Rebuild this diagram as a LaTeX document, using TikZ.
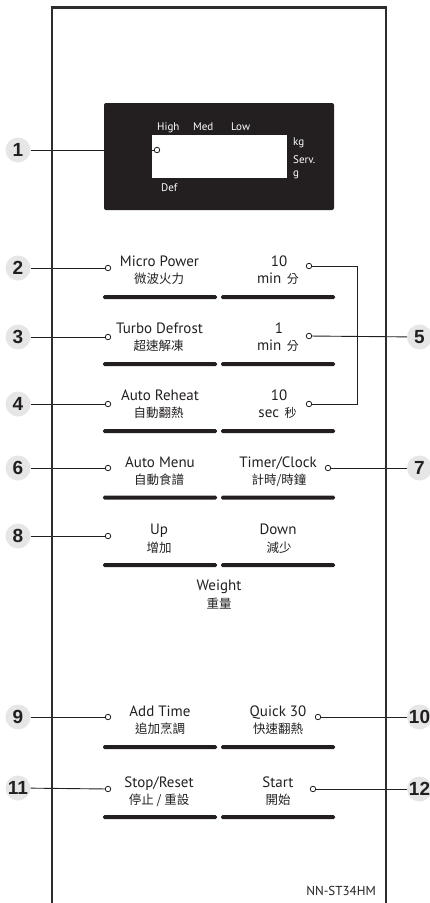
\documentclass[tikz,border=0pt]{standalone}
\usepackage{fontspec}
\setmainfont{PT Sans}
\newfontfamily\cjk{Noto Sans CJK TC}
\newfontfamily\numf{Liberation Sans}
\definecolor{ink}{HTML}{231F20}
\definecolor{callfill}{HTML}{E6E6E7}
\definecolor{framec}{HTML}{2D2D2D}
\tikzset{
  callout/.style={circle, fill=callfill, minimum size=25pt, inner sep=0pt,
    font=\numf\bfseries\fontsize{19}{19}\selectfont, text=ink},
  pin/.style={circle, draw=ink, fill=white, line width=0.8pt, minimum size=5.5pt, inner sep=0pt},
  en/.style={anchor=base, font=\fontsize{15}{15}\selectfont, text=ink, inner sep=0pt},
  zh/.style={anchor=base, font=\cjk\fontsize{12.5}{12.5}\selectfont, text=ink, inner sep=0pt},
  disp/.style={anchor=base west, font=\fontsize{11}{11}\selectfont, text=white, inner sep=0pt},
  keybar/.style={fill=ink, rounded corners=1.5pt},
  lead/.style={draw=ink, line width=0.9pt},
}
\newcommand{\zhs}[1]{\hspace{5.5pt}{\cjk\fontsize{12}{12}\selectfont #1}}
\begin{document}
\begin{tikzpicture}[x=1pt,y=-1pt]
\useasboundingbox (0,0) rectangle (429,903);
% display
\fill[ink, rounded corners=2pt] (104,103) rectangle (334,210);
\fill[white] (152,135) rectangle (287,178);
\node[disp] (hi) at (157,130) {High};
\node[disp] (med) at (193,130) {Med};
\node[disp] (low) at (231,130) {Low};
\node[disp] (kg) at (293,145.5) {kg};
\node[disp] (serv) at (293,163) {Serv.};
\node[disp] (gr) at (293,176) {g};
\node[disp] (def) at (161,191.5) {Def};
% key bars
\foreach \B in {297,364,431,497.5,565,747,817}{
  \fill[keybar] (103,\B-2) rectangle (217,\B+2);
  \fill[keybar] (221,\B-2) rectangle (335,\B+2);
}
% labels
\node[en] (t2a) at (159.5,266.5) {Micro Power};
\node[zh] (t2b) at (159,283.5) {微波火力};
\node[en] (t5a) at (279,266.5) {10};
\node[en] (t5b) at (278,283.5) {min\zhs{分}};
\node[en] (t3a) at (159.5,333.5) {Turbo Defrost};
\node[zh] (t3b) at (158.5,350.5) {超速解凍};
\node[en] (t5c) at (279,333.5) {1};
\node[en] (t5d) at (278,350.5) {min\zhs{分}};
\node[en] (t4a) at (160,400.5) {Auto Reheat};
\node[zh] (t4b) at (158.5,417.5) {自動翻熱};
\node[en] (t5e) at (279,400.5) {10};
\node[en] (t5f) at (277.5,417.5) {sec\zhs{秒}};
\node[en] (t6a) at (160,467) {Auto Menu};
\node[zh] (t6b) at (159,484.5) {自動食譜};
\node[en] (t7a) at (278,467) {Timer/Clock};
\node[zh] (t7b) at (279,484.5) {計時/時鐘};
\node[en] (t8a) at (159,534) {Up};
\node[zh] (t8b) at (159,552) {增加};
\node[en] (t8c) at (278,534) {Down};
\node[zh] (t8d) at (279,552) {減少};
\node[en] (tw) at (219,590.5) {Weight};
\node[zh] (twb) at (219,608) {重量};
\node[en] (t9a) at (160,716) {Add Time};
\node[zh] (t9b) at (160,733.5) {追加烹調};
\node[en] (t10a) at (278,716) {Quick 30};
\node[zh] (t10b) at (278,733.5) {快速翻熱};
\node[en] (t11a) at (159,787) {Stop/Reset};
\node[zh] (t11b) at (159,804) {停止 / 重設};
\node[en] (t12a) at (278,787) {Start};
\node[zh] (t12b) at (278,804) {開始};
\node[anchor=base east, font=\fontsize{13}{13}\selectfont, text=ink, inner sep=0pt] (model) at (376,895.5) {NN-ST34HM};
% callouts
\node[callout] (c1) at (18,150) {1};
\node[callout] (c2) at (18,268) {2};
\node[callout] (c3) at (18,337) {3};
\node[callout] (c4) at (18,404) {4};
\node[callout] (c6) at (18,468) {6};
\node[callout] (c8) at (18,536) {8};
\node[callout] (c9) at (18,717) {9};
\node[callout] (c11) at (18,788) {11};
\node[callout] (c5) at (419.5,337) {5};
\node[callout] (c7) at (419.5,468) {7};
\node[callout] (c10) at (419.5,717) {10};
\node[callout] (c12) at (419.5,789) {12};
% pins
\node[pin] (p1) at (157,150) {};
\node[pin] (p2) at (108,268) {};
\node[pin] (p3) at (108,337) {};
\node[pin] (p4) at (108,404) {};
\node[pin] (p6) at (108,468) {};
\node[pin] (p8) at (108,536) {};
\node[pin] (p9) at (108,717) {};
\node[pin] (p11) at (108,789) {};
\node[pin] (q2) at (309,266) {};
\node[pin] (q3) at (309,336) {};
\node[pin] (q4) at (309,404) {};
\node[pin] (q7) at (328,468) {};
\node[pin] (q10) at (318,717) {};
\node[pin] (q12) at (313,789) {};
\coordinate (j5) at (357,266);
% leads
\draw[lead] (c1) -- (p1);
\draw[lead] (c2) -- (p2);
\draw[lead] (c3) -- (p3);
\draw[lead] (c4) -- (p4);
\draw[lead] (c6) -- (p6);
\draw[lead] (c8) -- (p8);
\draw[lead] (c9) -- (p9);
\draw[lead] (c11) -- (p11);
\draw[lead] (q2) -- (j5) |- (q4);
\draw[lead] (q3) -- (c5);
\draw[lead] (q7) -- (c7);
\draw[lead] (q10) -- (c10);
\draw[lead] (q12) -- (c12);
% frame
\draw[framec, line width=2.8pt, line join=miter] (52,905) -- (52,7.5) -- (386,7.5) -- (386,905);
\end{tikzpicture}
\end{document}
